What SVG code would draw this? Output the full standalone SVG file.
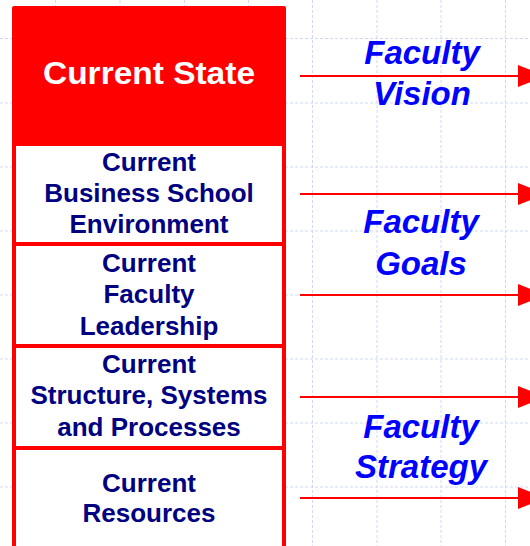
<svg xmlns="http://www.w3.org/2000/svg" width="530" height="546" viewBox="0 0 530 546">
<defs>
<style>
.grid{stroke:#cfd9f5;stroke-width:1;stroke-dasharray:3 2;fill:none}
.box{fill:#ffffff;stroke:#ff0000;stroke-width:4}
.lbl{font-family:"Liberation Sans",Arial,sans-serif;font-weight:bold;font-size:26px;fill:#000080;text-anchor:middle}
.hdr{font-family:"Liberation Sans",Arial,sans-serif;font-weight:bold;font-size:31px;fill:#ffffff;text-anchor:middle}
.fac{font-family:"Liberation Sans",Arial,sans-serif;font-weight:bold;font-style:italic;font-size:33px;fill:#0000ff;text-anchor:middle}
.arr{stroke:#ff0000;stroke-width:2;fill:none}
</style>
<marker id="ah" markerUnits="userSpaceOnUse" markerWidth="30" markerHeight="24" refX="0" refY="11" orient="auto" viewBox="0 0 30 22">
<path d="M0,0 L28,11 L0,22 Z" fill="#ff0000"/>
</marker>
</defs>
<rect width="530" height="546" fill="#ffffff"/>
<g id="grid">
<path class="grid" d="M55.5,0V546M120,0V546M184.5,0V546M248.5,0V546M312.5,0V546M377,0V546M441,0V546M505.5,0V546"/>
<path class="grid" d="M0,38.5H530M0,103H530M0,167H530M0,231H530M0,295H530M0,359H530M0,423H530M0,487H530"/>
</g>
<g id="current-state">
<path d="M12,8 Q12,6 14,6 H284 Q286,6 286,8 V146 H12 Z" fill="#ff0000"/>
<text class="hdr" x="149" y="84" textLength="212" lengthAdjust="spacingAndGlyphs">Current State</text>
</g>
<g id="environment">
<rect class="box" x="14" y="144" width="270" height="100"/>
<text class="lbl" x="149" y="171">Current</text>
<text class="lbl" x="149" y="202">Business School</text>
<text class="lbl" x="149" y="233">Environment</text>
</g>
<g id="leadership">
<rect class="box" x="14" y="244" width="270" height="102"/>
<text class="lbl" x="149" y="272">Current</text>
<text class="lbl" x="149" y="303">Faculty</text>
<text class="lbl" x="149" y="335">Leadership</text>
</g>
<g id="structure">
<rect class="box" x="14" y="346" width="270" height="102"/>
<text class="lbl" x="149" y="373">Current</text>
<text class="lbl" x="149" y="404">Structure, Systems</text>
<text class="lbl" x="149" y="436">and Processes</text>
</g>
<g id="resources">
<rect class="box" x="14" y="448" width="270" height="110"/>
<text class="lbl" x="149" y="492">Current</text>
<text class="lbl" x="149" y="522">Resources</text>
</g>
<g id="faculty-vision">
<text class="fac" x="422" y="64">Faculty</text>
<text class="fac" x="422" y="105">Vision</text>
</g>
<g id="faculty-goals">
<text class="fac" x="421" y="233">Faculty</text>
<text class="fac" x="421" y="275">Goals</text>
</g>
<g id="faculty-strategy">
<text class="fac" x="421" y="438">Faculty</text>
<text class="fac" x="421" y="478">Strategy</text>
</g>
<g id="connectors">
<line class="arr" x1="300" y1="76" x2="518" y2="76" marker-end="url(#ah)"/>
<line class="arr" x1="300" y1="194" x2="518" y2="194" marker-end="url(#ah)"/>
<line class="arr" x1="300" y1="295" x2="518" y2="295" marker-end="url(#ah)"/>
<line class="arr" x1="300" y1="397" x2="518" y2="397" marker-end="url(#ah)"/>
<line class="arr" x1="300" y1="498" x2="518" y2="498" marker-end="url(#ah)"/>
</g>
</svg>
